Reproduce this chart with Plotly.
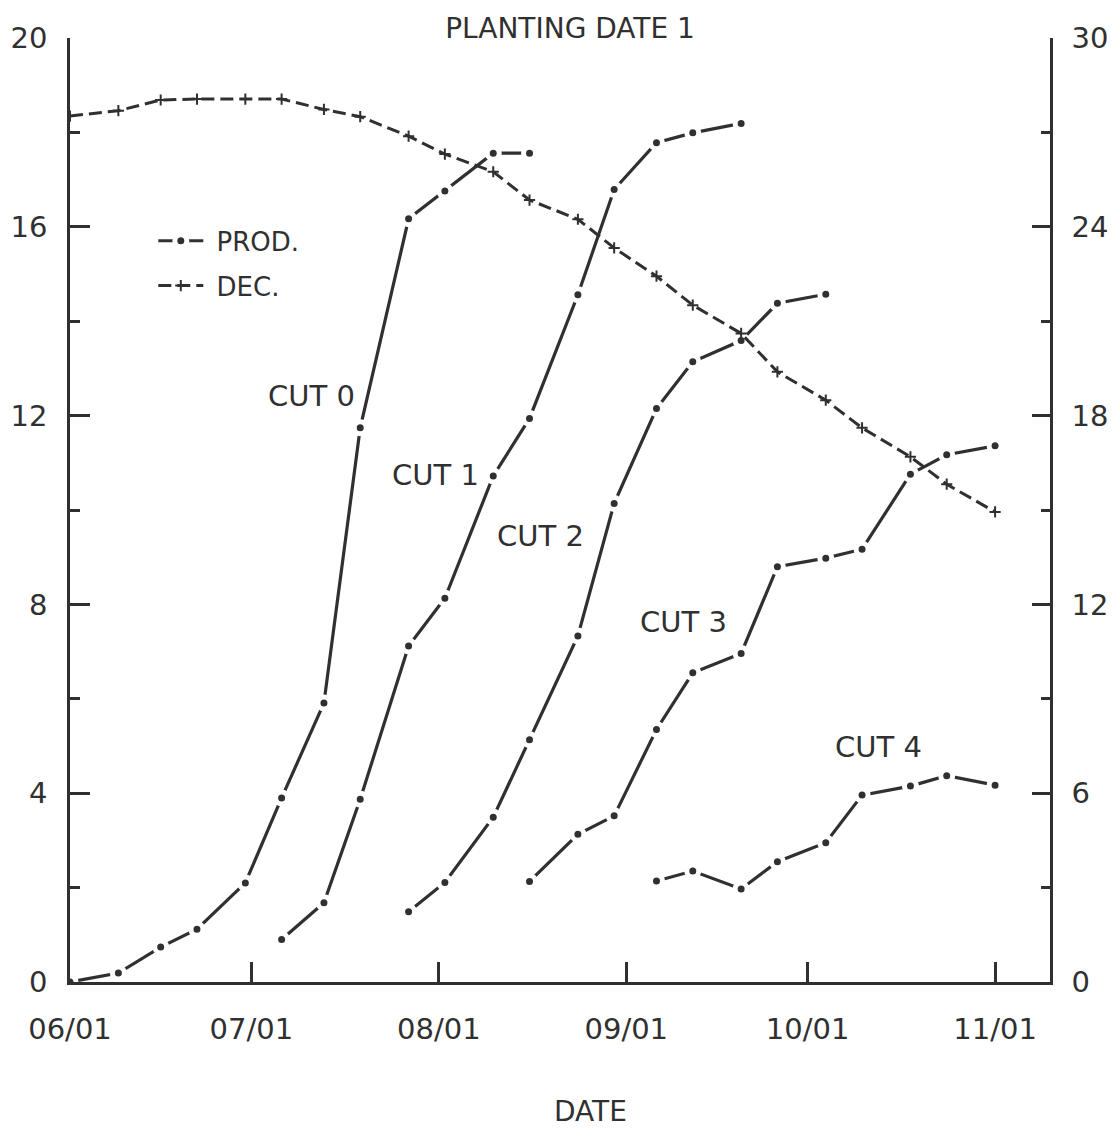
import pandas as pd
import plotly.graph_objects as go

YEAR = "1985"
INK = "#303030"
FONT = "DejaVu Sans"

# Production curves for each cut (left axis)
cut0_dates = ["06-01", "06-09", "06-16", "06-22", "06-30", "07-06", "07-13", "07-19",
              "07-27", "08-02", "08-10", "08-16"]
cut0_prod = [0.0, 0.19, 0.74, 1.12, 2.10, 3.90, 5.91, 11.74, 16.17, 16.76, 17.56, 17.56]

cut1_dates = ["07-06", "07-13", "07-19", "07-27", "08-02", "08-10", "08-16", "08-24",
              "08-30", "09-06", "09-12", "09-20"]
cut1_prod = [0.90, 1.68, 3.87, 7.12, 8.13, 10.72, 11.94, 14.56, 16.79, 17.78, 17.99, 18.19]

cut2_dates = ["07-27", "08-02", "08-10", "08-16", "08-24", "08-30", "09-06", "09-12",
              "09-20", "09-26", "10-04"]
cut2_prod = [1.49, 2.11, 3.49, 5.13, 7.33, 10.14, 12.15, 13.14, 13.59, 14.38, 14.57]

cut3_dates = ["08-16", "08-24", "08-30", "09-06", "09-12", "09-20", "09-26", "10-04",
              "10-10", "10-18", "10-24", "11-01"]
cut3_prod = [2.13, 3.13, 3.52, 5.35, 6.55, 6.96, 8.80, 8.98, 9.17, 10.76, 11.17, 11.36]

cut4_dates = ["09-06", "09-12", "09-20", "09-26", "10-04", "10-10", "10-18", "10-24", "11-01"]
cut4_prod = [2.14, 2.35, 1.97, 2.55, 2.95, 3.96, 4.15, 4.37, 4.17]

# Decline series (right axis)
dec_dates = ["06-01", "06-09", "06-16", "06-22", "06-30", "07-06", "07-13", "07-19",
             "07-27", "08-02", "08-10", "08-16", "08-24", "08-30", "09-06", "09-12",
             "09-20", "09-26", "10-04", "10-10", "10-18", "10-24", "11-01"]
dec_vals = [27.52, 27.69, 28.03, 28.06, 28.06, 28.06, 27.73, 27.50, 26.88, 26.31, 25.75,
            24.85, 24.24, 23.33, 22.43, 21.51, 20.61, 19.39, 18.49, 17.61, 16.69, 15.82,
            14.94]

cut_labels = ["CUT 0", "CUT 1", "CUT 2", "CUT 3", "CUT 4"]
cut_label_dates = ["07-11 00:00", "07-31 12:00", "08-17 18:00", "09-10 12:00", "10-12 18:00"]
cut_label_vals = [12.42, 10.74, 9.45, 7.63, 4.98]

month_ticks = ["06-01", "07-01", "08-01", "09-01", "10-01", "11-01"]
month_text = ["06/01", "07/01", "08/01", "09/01", "10/01", "11/01"]

left_major = [0, 4, 8, 12, 16, 20]
left_minor = [2, 6, 10, 14, 18]
right_major = [0, 6, 12, 18, 24, 30]
right_minor = [3, 9, 15, 21, 27]


def to_dates(days):
    return pd.to_datetime([f"{YEAR}-{d}" for d in days])


fig = go.Figure()

cuts = [(cut0_dates, cut0_prod), (cut1_dates, cut1_prod), (cut2_dates, cut2_prod),
        (cut3_dates, cut3_prod), (cut4_dates, cut4_prod)]

NBSP = "\u00a0"

for i, (dts, vals) in enumerate(cuts):
    fig.add_trace(go.Scatter(
        x=to_dates(dts), y=vals, mode="lines+markers",
        name=NBSP + "PROD.", legendgroup="prod", showlegend=(i == 0),
        line=dict(color=INK, width=3.2),
        marker=dict(symbol="circle", size=12, color=INK,
                    line=dict(color="white", width=5)),
    ))

fig.add_trace(go.Scatter(
    x=to_dates(dec_dates), y=dec_vals, yaxis="y2", mode="lines+markers",
    name=NBSP + "DEC.", legendgroup="dec",
    line=dict(color=INK, width=3, dash="13px,6px"),
    marker=dict(symbol="cross-thin", size=8, color=INK, line=dict(color=INK, width=2)),
))

for txt, d, v in zip(cut_labels, cut_label_dates, cut_label_vals):
    fig.add_annotation(x=pd.Timestamp(f"{YEAR}-{d}"), y=v, xref="x", yref="y", text=txt,
                       showarrow=False, xanchor="center", yanchor="middle",
                       font=dict(family=FONT, size=29, color=INK))

fig.add_annotation(x=0.531, y=-0.1377, xref="paper", yref="paper", text="DATE",
                   showarrow=False, xanchor="center", yanchor="middle",
                   font=dict(family=FONT, size=28, color=INK))

axis_common = dict(showline=True, linecolor=INK, linewidth=2.5, showgrid=False,
                   zeroline=False, ticks="inside", tickcolor=INK, tickwidth=2.5,
                   automargin=False,
                   tickfont=dict(family=FONT, size=29, color=INK))

fig.update_layout(
    width=1115, height=1129,
    margin=dict(l=70, r=65, t=38, b=147, autoexpand=False),
    paper_bgcolor="white", plot_bgcolor="white",
    title=dict(text="PLANTING DATE 1", x=570 / 1115, y=1 - 28 / 1129,
               xanchor="center", yanchor="middle",
               font=dict(family=FONT, size=28, color=INK)),
    xaxis=dict(type="date", range=[f"{YEAR}-06-01", f"{YEAR}-11-10 02:00"],
               tickmode="array", tickvals=to_dates(month_ticks), ticktext=month_text,
               ticklen=20, ticklabelstandoff=19, **axis_common),
    yaxis=dict(range=[0, 20], tickmode="array", tickvals=left_major, ticklen=20,
               ticklabelstandoff=14,
               minor=dict(tickmode="array", tickvals=left_minor, ticks="inside",
                          ticklen=10, tickcolor=INK, tickwidth=2.5, showgrid=False),
               **axis_common),
    yaxis2=dict(range=[0, 30], overlaying="y", side="right", anchor="x",
                tickmode="array", tickvals=right_major, ticklen=18,
                ticklabelstandoff=13,
                minor=dict(tickmode="array", tickvals=right_minor, ticks="inside",
                           ticklen=9, tickcolor=INK, tickwidth=2.5, showgrid=False),
                **axis_common),
    legend=dict(x=0.085, y=0.81, xanchor="left", yanchor="top",
                bgcolor="rgba(0,0,0,0)", itemwidth=45, tracegroupgap=8,
                font=dict(family=FONT, size=26, color=INK)),
)

fig.write_html("out.html")
